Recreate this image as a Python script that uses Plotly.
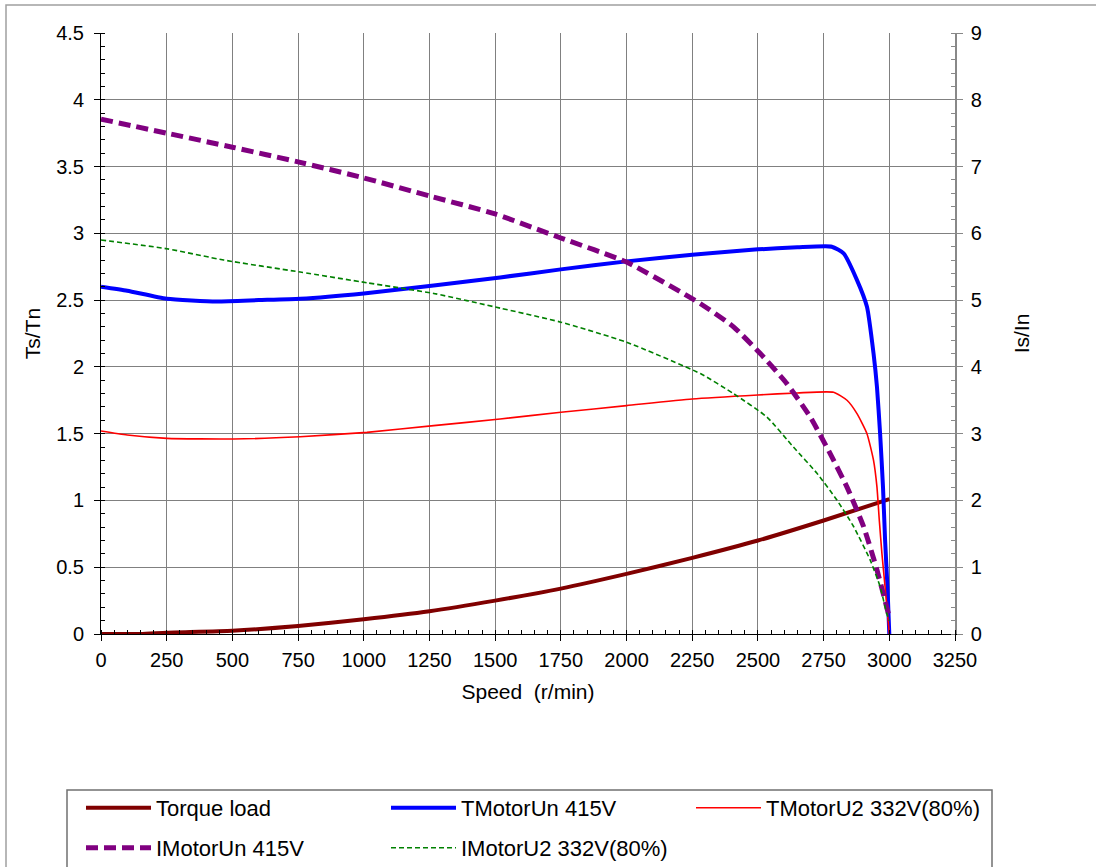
import plotly.graph_objects as go

# ---------------- data ----------------
speed_load = [0, 150, 250, 500, 750, 1000, 1250, 1500, 1750, 2000, 2250, 2500, 2750, 3000]
torque_load = [0.0, 0.0, 0.01, 0.025, 0.06, 0.11, 0.17, 0.25, 0.34, 0.45, 0.57, 0.70, 0.85, 1.01]

speed_tun = [0, 100, 250, 440, 600, 758, 1000, 1266, 1519, 1750, 2000, 2250, 2500, 2650, 2781,
             2826, 2877, 2915, 2940, 2953, 2965, 2976, 2984, 2993, 3000]
tmotor_un = [2.60, 2.57, 2.51, 2.49, 2.50, 2.51, 2.55, 2.61, 2.67, 2.73, 2.79, 2.84, 2.88, 2.895, 2.90,
             2.85, 2.65, 2.45, 2.10, 1.85, 1.50, 1.10, 0.70, 0.35, 0.0]

speed_tu2 = [0, 100, 251, 505, 758, 1012, 1266, 1519, 1750, 2000, 2250, 2500, 2650, 2788,
             2839, 2877, 2915, 2940, 2953, 2962, 2972, 2984, 3000]
tmotor_u2 = [1.52, 1.49, 1.465, 1.46, 1.477, 1.51, 1.56, 1.61, 1.66, 1.71, 1.76, 1.79, 1.805, 1.81,
             1.75, 1.65, 1.50, 1.30, 1.10, 0.85, 0.60, 0.35, 0.0]

speed_iun = [0, 250, 500, 750, 1000, 1250, 1500, 1750, 2000, 2280, 2407, 2509, 2610, 2699, 2775,
             2839, 2902, 2953, 3000]
imotor_un = [7.71, 7.50, 7.29, 7.07, 6.83, 6.56, 6.29, 5.93, 5.57, 4.95, 4.60, 4.20, 3.75, 3.25, 2.70,
             2.20, 1.61, 0.96, 0.25]

speed_iu2 = [0, 250, 467, 758, 1012, 1266, 1519, 1750, 2000, 2281, 2407, 2534, 2635, 2724, 2800,
             2864, 2927, 2965, 2990, 3000]
imotor_u2 = [5.90, 5.77, 5.60, 5.42, 5.26, 5.10, 4.88, 4.67, 4.37, 3.90, 3.60, 3.25, 2.80, 2.41, 2.01,
             1.61, 1.11, 0.71, 0.31, 0.20]

x_ticks = list(range(0, 3251, 250))
y_ticks = [0, 0.5, 1, 1.5, 2, 2.5, 3, 3.5, 4, 4.5]
y2_ticks = list(range(0, 10))

# ---------------- figure ----------------
FONT = "Arial, 'Liberation Sans', sans-serif"
W, H = 1096, 867
L, R, T, B = 101, 141, 33, 233
pw, ph = W - L - R, H - T - B


def px(xp):
    return (xp - L) / pw


def py(yp):
    return (H - B - yp) / ph


fig = go.Figure()

SM = 0.5
fig.add_trace(go.Scatter(x=speed_load, y=torque_load, name="Torque load", mode="lines",
                         line=dict(color="#800000", width=4, shape="spline", smoothing=SM),
                         legend="legend"))
fig.add_trace(go.Scatter(x=speed_tun, y=tmotor_un, name="TMotorUn 415V", mode="lines",
                         line=dict(color="#0000FF", width=4, shape="spline", smoothing=SM),
                         legend="legend"))
fig.add_trace(go.Scatter(x=speed_tu2, y=tmotor_u2, name="TMotorU2 332V(80%)", mode="lines",
                         line=dict(color="#FF0000", width=1.6, shape="spline", smoothing=SM),
                         legend="legend"))
fig.add_trace(go.Scatter(x=speed_iun, y=imotor_un, name="IMotorUn 415V", mode="lines",
                         line=dict(color="#800080", width=5, dash="12px,6px", shape="spline", smoothing=SM),
                         yaxis="y2", legend="legend2"))
fig.add_trace(go.Scatter(x=speed_iu2, y=imotor_u2, name="IMotorU2 332V(80%)", mode="lines",
                         line=dict(color="#008000", width=1.6, dash="5px,3px", shape="spline", smoothing=SM),
                         yaxis="y2", legend="legend2"))

tickfont = dict(family=FONT, size=20, color="black")
titlefont = dict(family=FONT, size=21, color="black")
legfont = dict(family=FONT, size=22, color="black")

fig.update_layout(
    width=W, height=H,
    margin=dict(l=L, r=R, t=T, b=B, autoexpand=False),
    paper_bgcolor="white", plot_bgcolor="white",
    font=dict(family=FONT, size=20, color="black"),
    xaxis=dict(
        range=[0, 3250], tickvals=x_ticks, ticktext=[str(v) for v in x_ticks],
        showgrid=True, gridcolor="#808080", gridwidth=1,
        showline=True, linecolor="black", linewidth=1,
        ticks="outside", ticklen=6, tickcolor="black",
        minor=dict(dtick=50, ticks="inside", ticklen=4, tickcolor="black", showgrid=False),
        tickfont=tickfont, zeroline=False, ticklabelstandoff=2, automargin=False,
        title=dict(text="Speed\u00a0 (r/min)", font=titlefont, standoff=14),
    ),
    yaxis=dict(
        range=[0, 4.5], tickvals=y_ticks, ticktext=["0", "0.5", "1", "1.5", "2", "2.5", "3", "3.5", "4", "4.5"],
        showgrid=True, gridcolor="#808080", gridwidth=1,
        showline=True, linecolor="black", linewidth=1,
        ticks="outside", ticklen=6, tickcolor="black",
        minor=dict(dtick=0.1, ticks="inside", ticklen=4, tickcolor="black", showgrid=False),
        tickfont=tickfont, zeroline=False, ticklabelstandoff=6, automargin=False,
        title=dict(text="Ts/Tn", font=titlefont, standoff=9),
    ),
    yaxis2=dict(
        range=[0, 9], tickvals=y2_ticks, ticktext=[str(v) for v in y2_ticks],
        overlaying="y", side="right", showgrid=False,
        showline=True, linecolor="#888888", linewidth=1.5,
        ticks="outside", ticklen=6, tickcolor="#888888",
        minor=dict(dtick=0.2, ticks="inside", ticklen=4, tickcolor="#888888", showgrid=False),
        tickfont=tickfont, zeroline=False, ticklabelstandoff=4, automargin=False,
        title=dict(text="Is/In", font=titlefont, standoff=33),
    ),
    legend=dict(
        orientation="h", x=px(81), y=py(808), xanchor="left", yanchor="middle",
        font=legfont, itemwidth=65, entrywidth=225, entrywidthmode="pixels",
        bgcolor="rgba(0,0,0,0)", borderwidth=0, itemclick=False,
    ),
    legend2=dict(
        orientation="h", x=px(81), y=py(848), xanchor="left", yanchor="middle",
        font=legfont, itemwidth=65, entrywidth=225, entrywidthmode="pixels",
        bgcolor="rgba(0,0,0,0)", borderwidth=0, itemclick=False,
    ),
    showlegend=True,
)

# chart-area border and legend box
fig.add_shape(type="rect", xref="paper", yref="paper",
              x0=px(6), x1=px(1110), y0=py(880), y1=py(5),
              line=dict(color="#a0a0a0", width=1.5), fillcolor="rgba(0,0,0,0)", layer="below")
fig.add_shape(type="rect", xref="paper", yref="paper",
              x0=px(67), x1=px(992), y0=py(880), y1=py(790),
              line=dict(color="#707070", width=1.5), fillcolor="rgba(0,0,0,0)", layer="below")

fig.write_html("out.html", config={"displayModeBar": False},
               post_script="document.body.style.margin='0';")
